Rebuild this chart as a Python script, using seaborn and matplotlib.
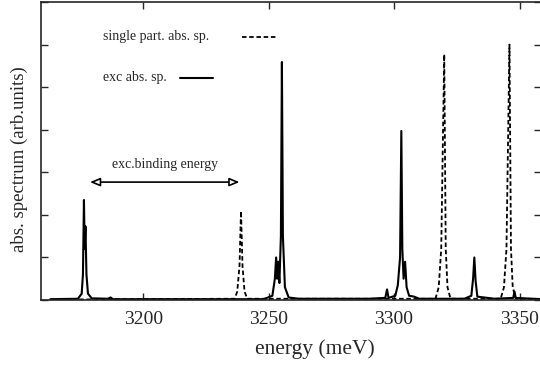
import matplotlib
matplotlib.use("Agg")
import matplotlib.pyplot as plt
import seaborn as sns
import pandas as pd

# exciton absorption spectrum (solid)
exc_energy = [3163, 3174, 3175.5, 3176.0, 3176.4, 3176.7, 3177.0, 3177.4, 3178.0, 3179.5,
              3186, 3187, 3188, 3248, 3251.5, 3252.5, 3253.0, 3253.4, 3253.8, 3254.3,
              3254.9, 3255.3, 3255.7, 3256.5, 3258, 3262, 3290, 3296.5, 3297.2, 3297.8,
              3300.5, 3301.5, 3302.4, 3302.9, 3303.3, 3303.8, 3304.4, 3305, 3306, 3308,
              3310, 3328, 3330.8, 3331.5, 3332.0, 3332.5, 3333.2, 3340, 3347.5, 3348,
              3348.5, 3359]
exc_abs = [0.02, 0.03, 0.15, 0.6, 2.35, 1.2, 1.73, 0.6, 0.15, 0.04,
           0.03, 0.06, 0.02, 0.02, 0.1, 0.5, 1.0, 0.5, 0.9, 0.4,
           1.5, 5.59, 1.5, 0.3, 0.06, 0.03, 0.03, 0.05, 0.25, 0.05,
           0.1, 0.35, 1.0, 3.97, 1.2, 0.5, 0.9, 0.3, 0.1, 0.08,
           0.03, 0.03, 0.1, 0.5, 1.0, 0.45, 0.08, 0.03, 0.05, 0.2,
           0.05, 0.02]

# single particle absorption spectrum (dashed)
sp_energy = [3163, 3236.5, 3237.5, 3238.4, 3239.0, 3239.6, 3240.4, 3241.5,
             3316.5, 3317.8, 3318.8, 3320.0, 3320.6, 3321.3, 3322.5,
             3342.5, 3343.8, 3344.8, 3346.0, 3346.6, 3347.3, 3348.5, 3359]
sp_abs = [0.01, 0.03, 0.2, 0.8, 2.09, 0.8, 0.2, 0.03,
          0.03, 0.3, 1.2, 5.77, 1.2, 0.3, 0.03,
          0.03, 0.3, 1.2, 6.0, 1.2, 0.3, 0.03, 0.01]

x_ticks = [3200, 3250, 3300, 3350]
y_ticks = [0, 1, 2, 3, 4, 5, 6, 7]

df_exc = pd.DataFrame({"energy": exc_energy, "abs": exc_abs})
df_sp = pd.DataFrame({"energy": sp_energy, "abs": sp_abs})

sns.set_style("ticks")
plt.rcParams["font.family"] = ["Liberation Serif", "DejaVu Serif"]
plt.rcParams["xtick.direction"] = "in"
plt.rcParams["ytick.direction"] = "in"

fig = plt.figure(figsize=(5.4, 3.65), dpi=100)
ax = fig.add_axes([0.076, 0.178, 0.926, 0.8165])

sns.lineplot(data=df_sp, x="energy", y="abs", ax=ax, color="black", lw=1.3,
             linestyle=(0, (2.5, 1.5)), estimator=None, sort=False)
sns.lineplot(data=df_exc, x="energy", y="abs", ax=ax, color="black", lw=1.5,
             estimator=None, sort=False)

ax.set_xlim(3159.3, 3358.6)
ax.set_ylim(0, 7)
ax.set_xticks(x_ticks)
ax.set_yticks(y_ticks)
ax.set_yticklabels([])
ax.tick_params(axis="x", top=True, labelsize=14, length=5, width=1, pad=8)
ax.tick_params(axis="y", right=True, length=5, width=1)
for s in ax.spines.values():
    s.set_linewidth(1.2)

ax.set_xlabel("energy (meV)", fontsize=15.5)
ax.xaxis.set_label_coords(0.548, -0.132)
ax.set_ylabel("abs. spectrum (arb.units)", fontsize=13.5)
ax.yaxis.set_label_coords(-0.027, 0.473)

# key, gnuplot style: text left of the line sample
ax.text(0.124, 0.883, "single part. abs. sp.", transform=ax.transAxes,
        fontsize=10, va="center", ha="left")
ax.plot([0.402, 0.474], [0.883, 0.883], transform=ax.transAxes, color="black",
        lw=1.3, linestyle=(0, (2.5, 1.5)))
ax.text(0.124, 0.748, "exc abs. sp.", transform=ax.transAxes,
        fontsize=10, va="center", ha="left")
ax.plot([0.278, 0.344], [0.745, 0.745], transform=ax.transAxes, color="black", lw=1.5)

# binding energy arrow, open heads like gnuplot
ax.annotate("", xy=(3239.5, 2.77), xytext=(3177.7, 2.77),
            arrowprops=dict(arrowstyle="<|-|>,head_length=0.6,head_width=0.25",
                            ec="black", fc="white", lw=1.2))
ax.text(3208.8, 3.19, "exc.binding energy", fontsize=10, ha="center", va="center")

fig.savefig("out.png", dpi=100)
